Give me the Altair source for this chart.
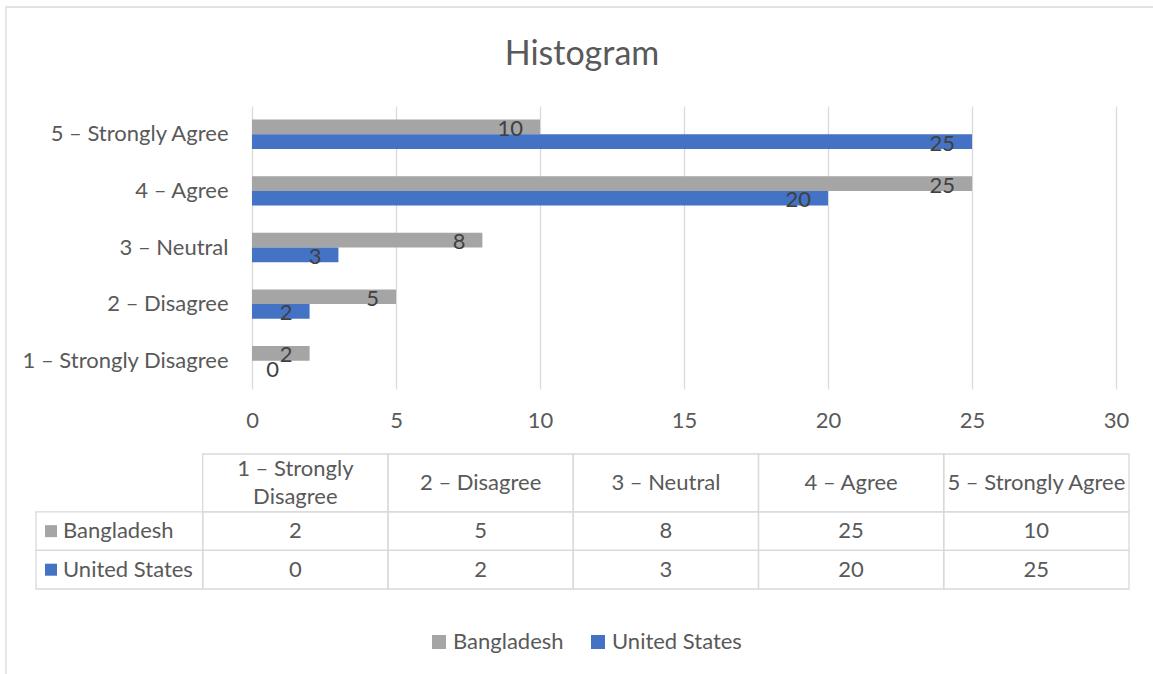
import altair as alt
import pandas as pd

# Likert-scale responses per country
categories = [
    "1 – Strongly Disagree",
    "2 – Disagree",
    "3 – Neutral",
    "4 – Agree",
    "5 – Strongly Agree",
]
series = ["Bangladesh", "United States"]
bangladesh = [2, 5, 8, 25, 10]
united_states = [0, 2, 3, 20, 25]
x_ticks = [0, 5, 10, 15, 20, 25, 30]
series_colors = ["#A5A5A5", "#4472C4"]

FONT = "Lato"
TEXT = "#595959"
VALUE_TEXT = "#404040"
LINE = "#D9D9D9"
FS = 22
LINE_H = 28

# Canvas layout: the bar plot area sits inside fixed padding
PAD = {"left": 252, "top": 106, "right": 37, "bottom": 285}
W, H = 864, 283

# Data table box (pixels relative to the plot area)
TABLE_LEFT, TABLE_RIGHT = 36 - PAD["left"], 1129 - PAD["left"]
TABLE_TOP, TABLE_BOTTOM = 454 - PAD["top"], 589 - PAD["top"]
HEAD_W = 0.9      # row-header column width, in category-column units
HEAD_H = 1.5      # column-header row height, in data-row units

values = {"Bangladesh": bangladesh, "United States": united_states}
bars_df = pd.DataFrame(
    [{"category": c, "series": s, "value": values[s][i]}
     for s in series for i, c in enumerate(categories)]
)

top_down = categories[::-1]

x_enc = alt.X(
    "value:Q",
    scale=alt.Scale(domain=[0, 30], nice=False),
    axis=alt.Axis(values=x_ticks, title=None, domain=False, ticks=False, grid=True,
                  gridColor=LINE, gridWidth=1.3, labelFont=FONT, labelFontSize=FS,
                  labelColor=TEXT, labelPadding=21, labelFlush=False),
)
y_enc = alt.Y(
    "category:N",
    scale=alt.Scale(domain=top_down, paddingInner=0.48, paddingOuter=0.24),
    axis=alt.Axis(title=None, domain=False, ticks=False, grid=False, labelFont=FONT,
                  labelFontSize=FS, labelColor=TEXT, labelPadding=24, labelLimit=400),
)
yoff_enc = alt.YOffset("series:N", scale=alt.Scale(domain=series))
color_enc = alt.Color(
    "series:N",
    scale=alt.Scale(domain=series, range=series_colors),
    legend=alt.Legend(title=None, orient="none", direction="horizontal",
                      legendX=176, legendY=525, symbolType="square", symbolSize=196,
                      symbolStrokeWidth=0, symbolOpacity=1, labelFont=FONT,
                      labelFontSize=FS, labelColor=TEXT, labelOffset=3, columnPadding=23),
)

base = alt.Chart(bars_df)
bars = base.mark_bar().encode(x=x_enc, y=y_enc, yOffset=yoff_enc, color=color_enc)
value_labels = base.transform_filter("datum.value > 0").mark_text(
    align="right", baseline="middle", dx=-17, dy=2, font=FONT, fontSize=FS, color=VALUE_TEXT
).encode(x=x_enc, y=y_enc, yOffset=yoff_enc, text="value:Q")
zero_labels = base.transform_filter("datum.value == 0").mark_text(
    align="right", baseline="middle", dx=27, dy=2, font=FONT, fontSize=FS, color=VALUE_TEXT
).encode(x=x_enc, y=y_enc, yOffset=yoff_enc, text="value:Q")
bar_group = alt.layer(bars, value_labels, zero_labels)

# ---- data table under the plot ----
def wrap(label, limit=18):
    if len(label) <= limit:
        return label
    head, tail = label.rsplit(" ", 1)
    return head + "\n" + tail

cells = []
for i, c in enumerate(categories):
    cells.append(dict(x=i, x2=i + 1, y=0, y2=HEAD_H, text=wrap(c), kind="col"))
for r, s in enumerate(series):
    y0 = HEAD_H + r
    cells.append(dict(x=-HEAD_W, x2=0, y=y0, y2=y0 + 1, text=s, kind="row", series=s))
    for i in range(len(categories)):
        cells.append(dict(x=i, x2=i + 1, y=y0, y2=y0 + 1, text=str(values[s][i]), kind="val"))
cells_df = pd.DataFrame(cells)
cells_df["xm"] = (cells_df["x"] + cells_df["x2"]) / 2
cells_df["ym"] = (cells_df["y"] + cells_df["y2"]) / 2
cells_df["lines"] = cells_df["text"].str.count("\n") + 1

tx = alt.Scale(domain=[-HEAD_W, len(categories)], range=[TABLE_LEFT, TABLE_RIGHT])
ty = alt.Scale(domain=[0, HEAD_H + len(series)], range=[TABLE_TOP, TABLE_BOTTOM])

tbase = alt.Chart(cells_df)
cell_rects = tbase.mark_rect(fillOpacity=0, stroke=LINE, strokeWidth=1.3).encode(
    x=alt.X("x:Q", scale=tx, axis=None),
    x2="x2:Q",
    y=alt.Y("y:Q", scale=ty, axis=None),
    y2="y2:Q",
)
text_style = dict(align="center", baseline="middle", lineBreak="\n", lineHeight=LINE_H,
                  font=FONT, fontSize=FS, color=TEXT)
text_enc = dict(
    x=alt.X("xm:Q", scale=tx, axis=None),
    y=alt.Y("ym:Q", scale=ty, axis=None),
    text="text:N",
)
cell_text = tbase.transform_filter(
    "datum.kind != 'row' && datum.lines == 1"
).mark_text(**text_style).encode(**text_enc)
# wrapped headers: shift up by half a line so the block stays centred
cell_text_wrapped = tbase.transform_filter(
    "datum.kind != 'row' && datum.lines == 2"
).mark_text(dy=-LINE_H / 2, **text_style).encode(**text_enc)
row_keys = tbase.transform_filter("datum.kind == 'row'").mark_square(
    size=144, xOffset=15, opacity=1
).encode(
    x=alt.X("x:Q", scale=tx, axis=None),
    y=alt.Y("ym:Q", scale=ty, axis=None),
    color=color_enc,
)
row_text = tbase.transform_filter("datum.kind == 'row'").mark_text(
    align="left", baseline="middle", dx=27, font=FONT, fontSize=FS, color=TEXT
).encode(
    x=alt.X("x:Q", scale=tx, axis=None),
    y=alt.Y("ym:Q", scale=ty, axis=None),
    text="text:N",
)
table_group = alt.layer(cell_rects, cell_text, cell_text_wrapped, row_keys, row_text)

# chart-area border
frame = alt.Chart(pd.DataFrame({"part": ["chart area"]})).mark_rect(
    fillOpacity=0, stroke=LINE, strokeWidth=1.3
).encode(
    x=alt.value(6 - PAD["left"]),
    x2=alt.value(W + PAD["right"] + 20),
    y=alt.value(7 - PAD["top"]),
    y2=alt.value(H + PAD["bottom"] + 20),
)

chart = (
    alt.layer(frame, bar_group, table_group)
    .resolve_scale(x="independent", y="independent")
    .properties(
        width=W,
        height=H,
        padding=PAD,
        autosize=alt.AutoSizeParams(type="none"),
        title=alt.TitleParams(
            "Histogram", font=FONT, fontSize=34, fontWeight="normal", color=TEXT,
            anchor="middle", frame="group", baseline="alphabetic", offset=0,
            dx=-102, dy=93,
        ),
    )
    .configure_view(stroke="transparent")
)

chart.save("out.html", embed_options={"renderer": "svg", "actions": False})
